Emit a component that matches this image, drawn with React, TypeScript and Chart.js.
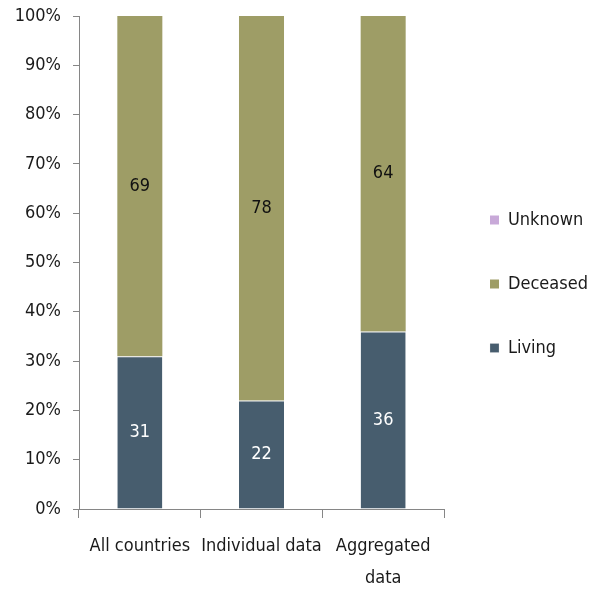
import React, { useEffect, useRef } from 'react';
import { Chart, registerables } from 'chart.js';

Chart.register(...registerables);

const categories: (string | string[])[] = ['All countries', 'Individual data', ['Aggregated', 'data']];
const livingValues = [31, 22, 36];
const deceasedValues = [69, 78, 64];
const unknownValues = [0, 0, 0];
const seriesNames = ['Living', 'Deceased', 'Unknown'];
const yMin = 0;
const yMax = 100;
const yStep = 10;

const FONT = "'Liberation Sans Narrow', 'DejaVu Sans Condensed', 'Open Sans', sans-serif";
const TEXT = '#1a1a1a';
const AXIS = '#868686';

const valueLabels = {
  id: 'valueLabels',
  afterDatasetsDraw(chart: any) {
    const ctx = chart.ctx;
    ctx.save();
    ctx.font = `18px ${FONT}`;
    ctx.textAlign = 'center';
    ctx.textBaseline = 'middle';
    chart.data.datasets.forEach((ds: any, di: number) => {
      const meta = chart.getDatasetMeta(di);
      if (meta.hidden) return;
      meta.data.forEach((bar: any, i: number) => {
        const v = ds.data[i];
        if (!v) return;
        ctx.fillStyle = ds.labelColor;
        ctx.fillText(String(v), bar.x, (bar.y + bar.base) / 2);
      });
    });
    ctx.restore();
  },
};

export default function App() {
  const ref = useRef<HTMLCanvasElement>(null);
  useEffect(() => {
    document.body.style.margin = '0';
    const chart = new Chart(ref.current!, {
      type: 'bar',
      data: {
        labels: categories as any,
        datasets: [
          {
            label: seriesNames[0],
            data: livingValues,
            backgroundColor: '#475D6E',
            borderColor: '#e8e8e8',
            borderWidth: { top: 1, left: 0, right: 0, bottom: 0 },
            borderSkipped: false,
            labelColor: '#ffffff',
          } as any,
          {
            label: seriesNames[1],
            data: deceasedValues,
            backgroundColor: '#9E9D66',
            borderWidth: 0,
            labelColor: '#111111',
          } as any,
          {
            label: seriesNames[2],
            data: unknownValues,
            backgroundColor: '#C8A9D8',
            borderWidth: 0,
            labelColor: '#111111',
          } as any,
        ],
      },
      options: {
        animation: false,
        responsive: false,
        layout: { padding: { top: 16, right: 0, left: 0, bottom: 0 } },
        datasets: { bar: { barPercentage: 0.37, categoryPercentage: 1 } },
        plugins: {
          tooltip: { enabled: false },
          legend: {
            position: 'right',
            fullSize: false,
            reverse: true,
            maxWidth: 146,
            title: { display: true, text: '', font: { size: 12, lineHeight: 1.25 }, padding: 14 },
            labels: {
              font: { family: FONT, size: 18 },
              color: TEXT,
              boxWidth: 9,
              boxHeight: 9,
              padding: 46,
            },
          },
        },
        scales: {
          x: {
            stacked: true,
            afterFit: (s: any) => { s.height = 80; },
            grid: { drawOnChartArea: false, drawTicks: true, tickLength: 9, color: AXIS, offset: true },
            border: { display: true, color: AXIS, width: 1 },
            ticks: { font: { family: FONT, size: 18, lineHeight: 1.75 }, color: TEXT, padding: 13, maxRotation: 0, autoSkip: false },
          },
          y: {
            stacked: true,
            min: yMin,
            max: yMax,
            afterFit: (s: any) => { s.width = 79; s.paddingTop = 0; s.paddingBottom = 0; },
            grid: { drawOnChartArea: false, drawTicks: true, tickLength: 6, color: AXIS },
            border: { display: true, color: AXIS, width: 1 },
            ticks: {
              stepSize: yStep,
              font: { family: FONT, size: 18 },
              color: TEXT,
              padding: 12,
              callback: (v: any) => `${v}%`,
            },
          },
        },
      },
      plugins: [valueLabels],
    });
    return () => chart.destroy();
  }, []);
  return <canvas ref={ref} width={590} height={589} style={{ display: 'block' }} />;
}
